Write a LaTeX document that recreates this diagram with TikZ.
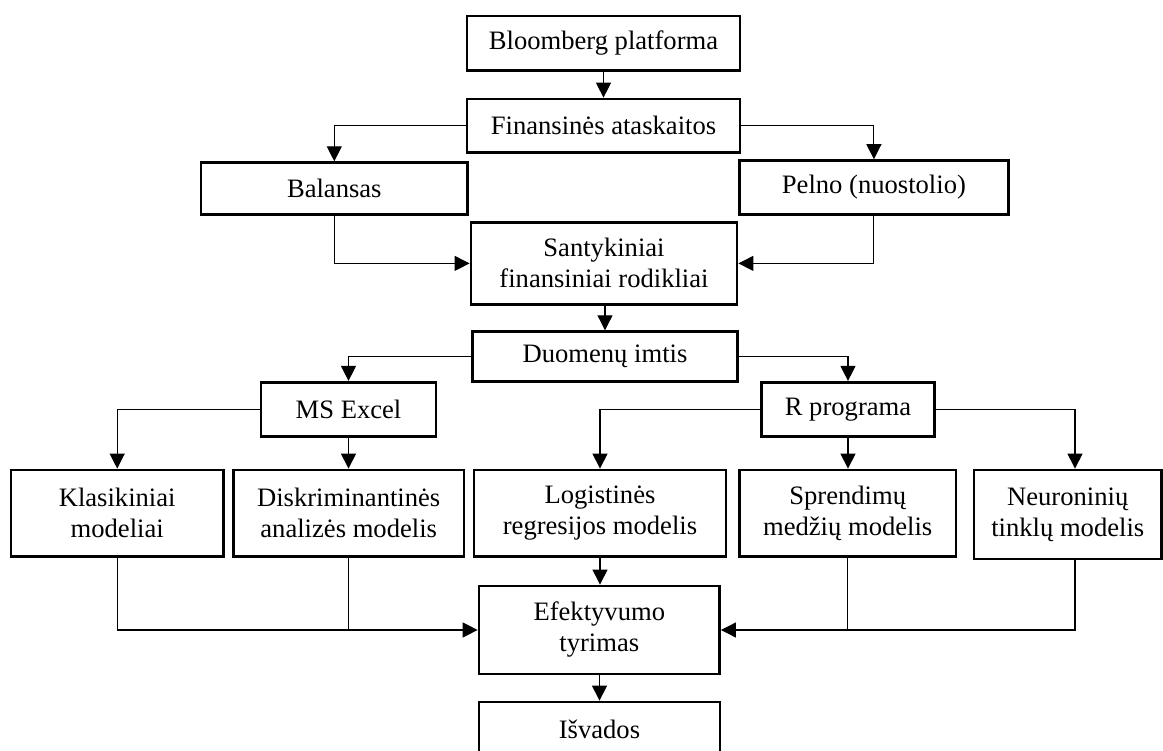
\documentclass[tikz,border=0pt]{standalone}
\usepackage{fontspec}
\setmainfont{Liberation Serif}
\usetikzlibrary{arrows.meta}
\begin{document}
\begin{tikzpicture}[x=1pt,y=-1pt,
  box/.style={draw, line width=2.8pt, inner sep=0pt, align=center,
    font=\fontsize{26.6}{31}\selectfont},
  link/.style={line width=1.1pt},
  arr/.style={link, -{Triangle[length=15pt,width=15pt]}},
]
\useasboundingbox (0,0) rectangle (1163,751);

% top part: data source and statements
\node[box, minimum width=273pt, minimum height=54.7pt] (blm) at (603.5,43.3) {Bloomberg platforma};
\node[box, minimum width=273pt, minimum height=53.3pt] (fin) at (603.5,125.7) {Finansinės ataskaitos};
\node[box, minimum width=266.7pt, minimum height=52pt] (bal) at (334.3,188.7) {Balansas};
\node[box, minimum width=268.8pt, minimum height=54pt] (pel) at (873.9,187.6) {Pelno (nuostolio)};
\node[box, minimum width=266pt, minimum height=81.8pt] (san) at (604,263.4) {Santykiniai\\finansiniai rodikliai};
\node[box, minimum width=264.6pt, minimum height=50pt] (duo) at (605,356.7) {Duomenų imtis};

% tools
\node[box, minimum width=175pt, minimum height=54.4pt] (mse) at (348.5,409.5) {MS Excel};
\node[box, minimum width=172.5pt, minimum height=54.4pt] (rpr) at (848,409.5) {R programa};

% models
\node[box, minimum width=212.3pt, minimum height=86.5pt] (kla) at (117.2,513.25) {Klasikiniai\\modeliai};
\node[box, minimum width=230.7pt, minimum height=86.5pt] (dis) at (348.7,513.25) {Diskriminantinės\\analizės modelis};
\node[box, minimum width=252pt, minimum height=86.5pt] (log) at (600,513.25) {Logistinės\\regresijos modelis};
\node[box, minimum width=216.7pt, minimum height=86.5pt] (spr) at (847.7,513.25) {Sprendimų\\medžių modelis};
\node[box, minimum width=187.5pt, minimum height=89pt] (neu) at (1067.75,514.5) {Neuroninių\\tinklų modelis};

% evaluation and conclusions
\node[box, minimum width=240.5pt, minimum height=88pt] (efe) at (599.3,630) {Efektyvumo\\tyrimas};
\node[box, minimum width=241pt, minimum height=54pt] (isv) at (599.5,729) {Išvados};

\coordinate (neutop) at ([xshift=7.25pt]neu.north);
\coordinate (neubot) at ([xshift=7.25pt]neu.south);

% connectors
\draw[arr] (blm) -- (fin);
\draw[arr] (fin.west) -| (bal.north);
\draw[arr] (fin.east) -| (pel.north);
\draw[arr] (bal.south) |- (san.west);
\draw[arr] (pel.south) |- (san.east);
\draw[arr] (san.south -| duo.north) -- (duo.north);
\draw[arr] (duo.west) -| (mse.north);
\draw[arr] (duo.east) -| (rpr.north);
\draw[arr] (mse.west) -| (kla.north);
\draw[arr] (mse.south) -- (mse.south |- dis.north);
\draw[arr] (rpr.west) -| (log.north);
\draw[arr] (rpr.south) -- (rpr.south |- spr.north);
\draw[arr] (rpr.east) -| (neutop);
\draw[arr] (log.south) -- (log.south |- efe.north);
\draw[arr] (kla.south) |- (efe.west);
\draw[link] (dis.south) -- (dis.south |- efe.west);
\draw[arr] (neubot) |- (efe.east);
\draw[link] (spr.south) -- (spr.south |- efe.east);
\draw[arr] (efe.south -| isv.north) -- (isv.north);
\end{tikzpicture}
\end{document}
